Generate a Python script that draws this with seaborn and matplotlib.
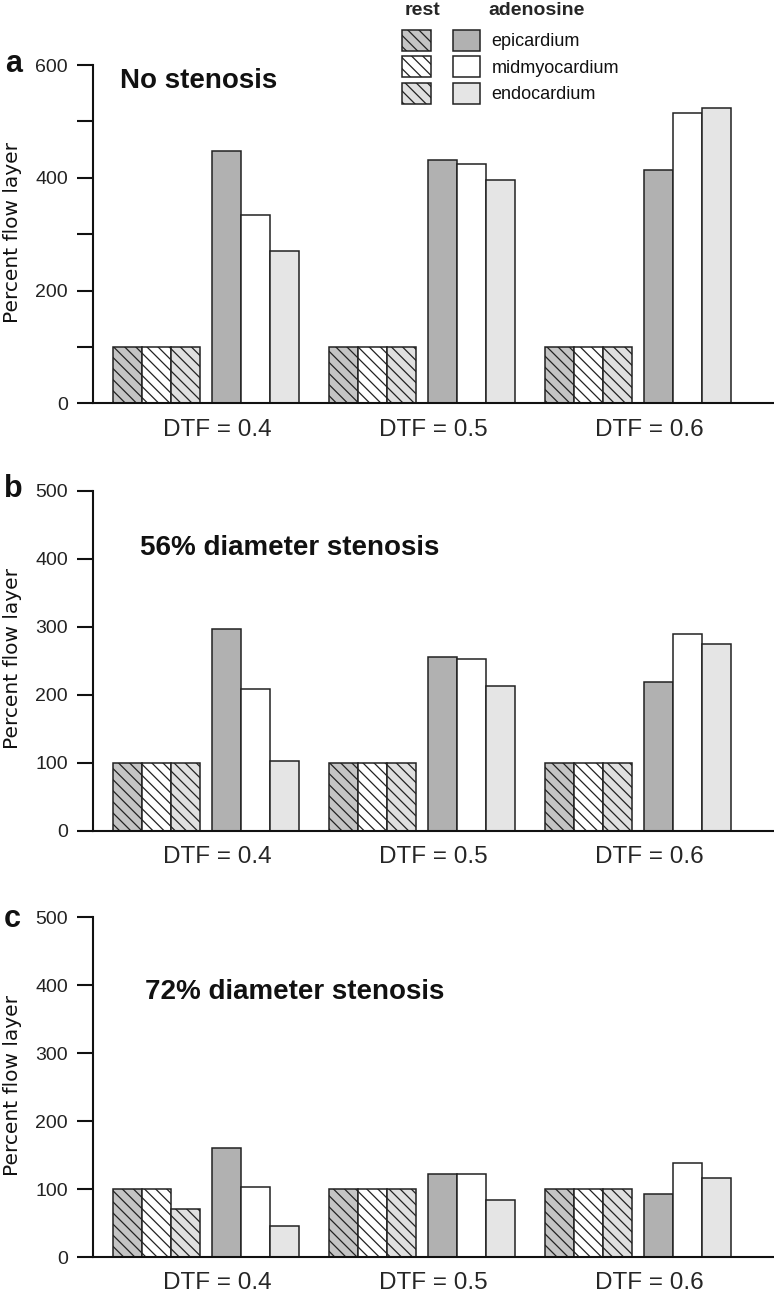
import numpy as np
import pandas as pd
import matplotlib
matplotlib.use("Agg")
import matplotlib.pyplot as plt
import seaborn as sns
from matplotlib.patches import Rectangle

# ---------------- data ----------------
dtf_values = [0.4, 0.5, 0.6]
dtf_labels = ["DTF = 0.4", "DTF = 0.5", "DTF = 0.6"]
layers = ["epicardium", "midmyocardium", "endocardium"]
conditions = ["rest", "adenosine"]

# panel a: no stenosis
rest_a_epi = [100, 100, 100]
rest_a_mid = [100, 100, 100]
rest_a_endo = [100, 100, 100]
aden_a_epi = [448, 432, 413]
aden_a_mid = [334, 424, 514]
aden_a_endo = [271, 396, 524]

# panel b: 56% diameter stenosis
rest_b_epi = [100, 100, 100]
rest_b_mid = [100, 100, 100]
rest_b_endo = [100, 100, 100]
aden_b_epi = [297, 256, 218]
aden_b_mid = [209, 253, 290]
aden_b_endo = [103, 213, 275]

# panel c: 72% diameter stenosis
rest_c_epi = [100, 100, 100]
rest_c_mid = [100, 100, 100]
rest_c_endo = [70, 100, 100]
aden_c_epi = [161, 122, 93]
aden_c_mid = [103, 122, 138]
aden_c_endo = [45, 84, 117]

panel_titles = ["No stenosis", "56% diameter stenosis", "72% diameter stenosis"]
panel_letters = ["a", "b", "c"]

# ---------------- style ----------------
sns.set_theme(style="ticks")
plt.rcParams["font.family"] = ["Liberation Sans", "DejaVu Sans"]
plt.rcParams["hatch.linewidth"] = 0.9
plt.rcParams["hatch.color"] = "#222222"

W, H = 774, 1292
fig = plt.figure(figsize=(W / 100, H / 100), dpi=100)

def fx(x):
    return x / W

def fy(y):
    return 1 - y / H

rest_pal = {"epicardium": "#c4c4c4", "midmyocardium": "#ffffff", "endocardium": "#e0e0e0"}
aden_pal = {"epicardium": "#b1b1b1", "midmyocardium": "#ffffff", "endocardium": "#e5e5e5"}
EDGE = "#222222"
HATCH = "\\\\\\"

PX_PER_UNIT = 2160.0  # 216 px per 0.1 DTF
rest_shift = -60.5 / PX_PER_UNIT
aden_shift = 38.0 / PX_PER_UNIT
group_width = 87.0 / 216.0

def make_df(rest, aden):
    rows = []
    for cond, arrs in (("rest", rest), ("adenosine", aden)):
        for layer, arr in zip(layers, arrs):
            for d, v in zip(dtf_values, arr):
                rows.append({"dtf": d, "condition": cond, "layer": layer, "value": v})
    df = pd.DataFrame(rows)
    df["xpos"] = df["dtf"] + np.where(df["condition"] == "rest", rest_shift, aden_shift)
    return df

panels = [
    (make_df([rest_a_epi, rest_a_mid, rest_a_endo], [aden_a_epi, aden_a_mid, aden_a_endo]),
     600, 65, 403.3, list(range(0, 601, 100)), [0, 200, 400, 600]),
    (make_df([rest_b_epi, rest_b_mid, rest_b_endo], [aden_b_epi, aden_b_mid, aden_b_endo]),
     500, 490.7, 830.7, list(range(0, 501, 100)), list(range(0, 501, 100))),
    (make_df([rest_c_epi, rest_c_mid, rest_c_endo], [aden_c_epi, aden_c_mid, aden_c_endo]),
     500, 917.3, 1257.0, list(range(0, 501, 100)), list(range(0, 501, 100))),
]

title_pos = [(120, 88), (140, 555), (145, 999)]
letter_pos = [(5, 71.7), (4, 496.7), (4, 926.7)]

x_left_px, x_right_px = 93, 774
xlim = (0.4 + (x_left_px - 217) / PX_PER_UNIT, 0.4 + (x_right_px - 217) / PX_PER_UNIT)

for i, (df, ymax, top_px, bot_px, ticks, labeled) in enumerate(panels):
    ax = fig.add_axes([fx(x_left_px), fy(bot_px), (x_right_px - x_left_px) / W, (bot_px - top_px) / H])
    for cond, pal in (("rest", rest_pal), ("adenosine", aden_pal)):
        n0 = len(ax.patches)
        sns.barplot(data=df[df["condition"] == cond], x="xpos", y="value", hue="layer",
                    hue_order=layers, palette=pal, native_scale=True, width=group_width,
                    dodge=True, errorbar=None, saturation=1, edgecolor=EDGE, linewidth=1.1,
                    legend=False, ax=ax)
        if cond == "rest":
            for p in ax.patches[n0:]:
                p.set_hatch(HATCH)
    ax.set_xlim(*xlim)
    ax.set_ylim(0, ymax)
    ax.set_xticks(dtf_values)
    ax.set_xticklabels(dtf_labels, fontsize=17.5)
    ax.tick_params(axis="x", length=0, pad=11)
    ax.set_yticks(ticks)
    ax.set_yticklabels([str(t) if t in labeled else "" for t in ticks], fontsize=14, color="#222222")
    ax.tick_params(axis="y", length=11.5, width=1.5, pad=6.5, color="#111111", direction="out")
    sns.despine(ax=ax, top=True, right=True)
    ax.spines["left"].set_linewidth(1.5)
    ax.spines["bottom"].set_linewidth(1.5)
    ax.spines["left"].set_color("#111111")
    ax.spines["bottom"].set_color("#111111")
    ax.set_xlabel("")
    ax.set_ylabel("")
    ax.set_facecolor("white")

    # y-axis title, placed in figure pixels so it stays inside the canvas
    fig.text(fx(12.5), fy((top_px + bot_px) / 2 - 2), "Percent flow layer", rotation=90,
             fontsize=14.5, family="DejaVu Sans", color="#111111", ha="center", va="center")

    tx, ty = title_pos[i]
    fig.text(fx(tx), fy(ty), panel_titles[i], fontsize=20, fontweight="bold",
             ha="left", va="baseline", color="#111111")
    lx, ly = letter_pos[i]
    fig.text(fx(lx), fy(ly), panel_letters[i], fontsize=22, fontweight="bold",
             ha="left", va="baseline", color="#111111")

# ---------------- legend ----------------
fig.text(fx(405), fy(15), "rest", fontsize=14, fontweight="bold", ha="left", va="baseline")
fig.text(fx(488), fy(15), "adenosine", fontsize=14, fontweight="bold", ha="left", va="baseline")
rows_y = [(30, 51), (55.7, 77.3), (82.7, 104.3)]
text_base = [45.7, 72.7, 99.3]
for layer, (y0, y1), tb in zip(layers, rows_y, text_base):
    fig.add_artist(Rectangle((fx(401.7), fy(y1)), 29 / W, (y1 - y0) / H, transform=fig.transFigure,
                             facecolor=rest_pal[layer], edgecolor=EDGE, linewidth=1.1, hatch=HATCH))
    fig.add_artist(Rectangle((fx(452.7), fy(y1)), 27.3 / W, (y1 - y0) / H, transform=fig.transFigure,
                             facecolor=aden_pal[layer], edgecolor=EDGE, linewidth=1.1))
    fig.text(fx(491.7), fy(tb), layer, fontsize=13, ha="left", va="baseline", color="#111111")

fig.savefig("out.png", dpi=100, facecolor="white")
